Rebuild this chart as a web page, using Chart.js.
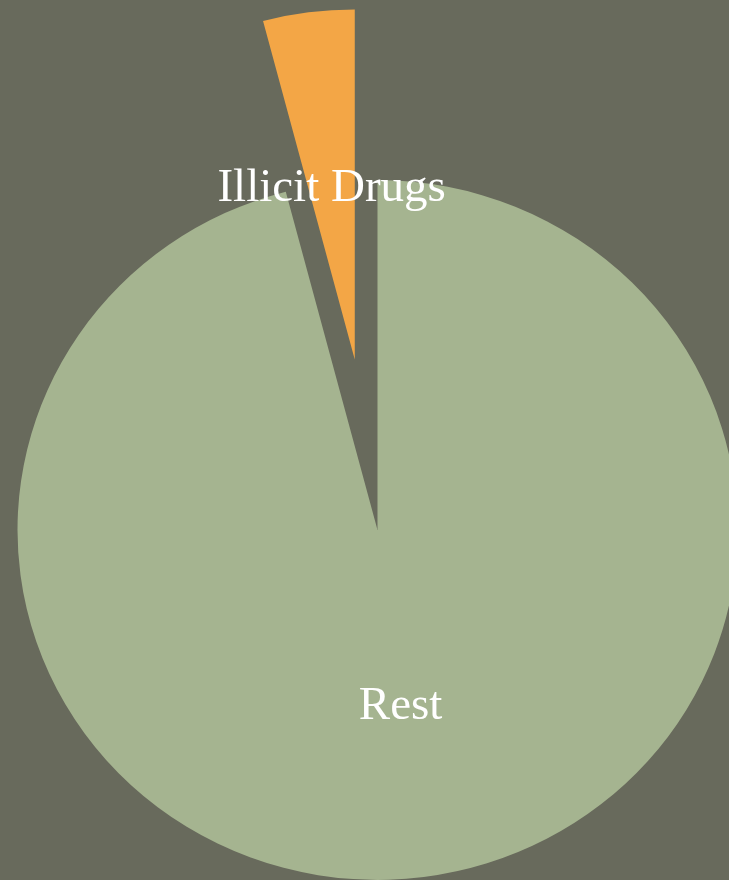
<!DOCTYPE html>
<html lang="en">
<head>
    <meta charset="UTF-8">
    <title>Illicit Drugs share</title>
    <script src="https://cdn.jsdelivr.net/npm/chart.js@4.4.0/dist/chart.umd.min.js"></script>
    <style>
        body { margin: 0; background: #686a5c; }
        #wrap { width: 729px; height: 880px; position: relative; }
    </style>
</head>
<body>
    <div id="wrap"><canvas id="myChart"></canvas></div>
</body>
</html>
<script>
    // slices, clockwise from 12 o'clock
    let labels = ["Rest", "Illicit Drugs"]
    let values = [95.9, 4.1]
    let colors = ["#a5b490", "#f3a646"]

    // pulled-out slice distance, and vertical flattening of the pie
    const PULL = 177
    const SQUASH = 0.972

    const pullSlice = {
        id: 'pullSlice',
        afterDatasetUpdate(chart, args) {
            const el = args.meta.data[1]
            const mid = (el.startAngle + el.endAngle) / 2
            el.x += Math.cos(mid) * PULL
            el.y += Math.sin(mid) * PULL
        }
    }

    // flatten the pie a little around its centre, then write the slice names
    const flatPie = {
        id: 'flatPie',
        beforeDatasetsDraw(chart) {
            const ctx = chart.ctx
            const cy = chart.getDatasetMeta(0).data[0].y
            ctx.save()
            ctx.translate(0, cy)
            ctx.scale(1, SQUASH)
            ctx.translate(0, -cy)
        },
        afterDatasetsDraw(chart) {
            const ctx = chart.ctx
            ctx.restore()
            const arcs = chart.getDatasetMeta(0).data
            const cy = arcs[0].y
            ctx.save()
            ctx.fillStyle = '#ffffff'
            ctx.font = '47px "Liberation Serif", serif'
            ctx.textAlign = 'center'
            ctx.textBaseline = 'middle'
            arcs.forEach((el, i) => {
                const mid = (el.startAngle + el.endAngle) / 2
                const r = el.outerRadius * 0.5
                const x = el.x + Math.cos(mid) * r
                const y = cy + (el.y + Math.sin(mid) * r - cy) * SQUASH + 3
                ctx.fillText(labels[i], x, y)
            })
            ctx.restore()
        }
    }

    window.addEventListener("load", () => {
        const ctx = document.getElementById('myChart').getContext('2d')
        new Chart(ctx, {
            type: 'pie',
            data: {
                labels: labels,
                datasets: [{
                    data: values,
                    backgroundColor: colors,
                    borderWidth: 0,
                    radius: 360
                }]
            },
            options: {
                responsive: true,
                maintainAspectRatio: false,
                animation: false,
                layout: { padding: { left: 26, top: 180 } },
                plugins: {
                    legend: { display: false },
                    tooltip: { enabled: false }
                }
            },
            plugins: [pullSlice, flatPie]
        })
    })
</script>
